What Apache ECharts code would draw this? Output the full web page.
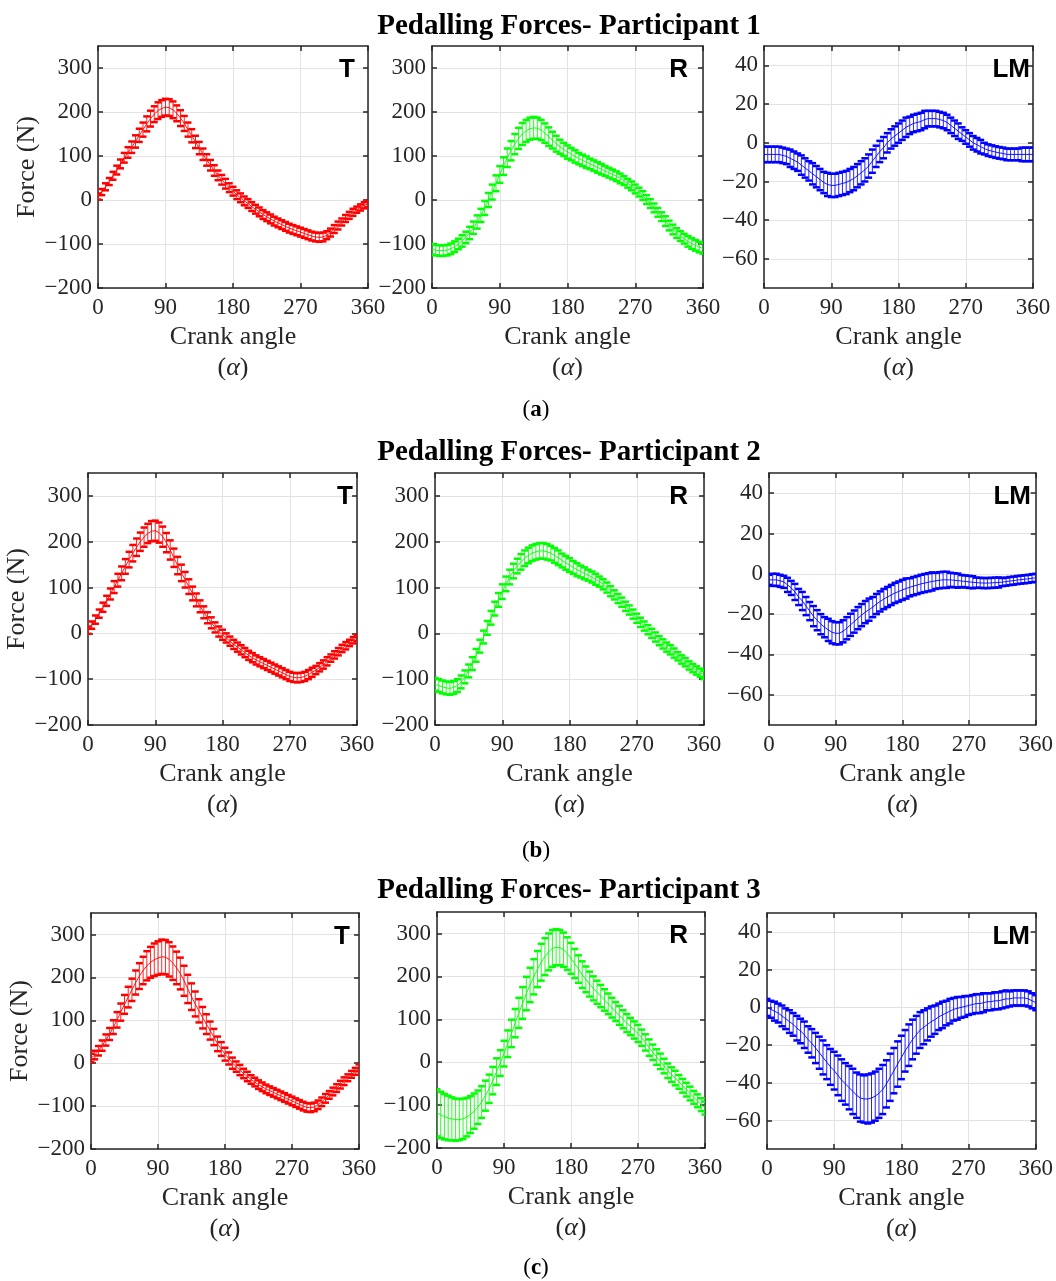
<!DOCTYPE html>
<html><head><meta charset="utf-8">
<script src="https://cdn.jsdelivr.net/npm/echarts@6/dist/echarts.min.js"></script>
<style>html,body{margin:0;padding:0;background:#fff}#c{width:1056px;height:1281px}</style>
</head><body><div id="c"></div><script>
// ---------- DATA ----------
const angles = [0,5,10,15,20,25,30,35,40,45,50,55,60,65,70,75,80,85,90,95,100,105,110,115,120,125,130,135,140,145,150,155,160,165,170,175,180,185,190,195,200,205,210,215,220,225,230,235,240,245,250,255,260,265,270,275,280,285,290,295,300,305,310,315,320,325,330,335,340,345,350,355,360];
const xTicks = [0,90,180,270,360];
const forceTicks = [-200,-100,0,100,200,300];
const lmTicks = [-60,-40,-20,0,20,40];
const rowTitles = ['Pedalling Forces- Participant 1','Pedalling Forces- Participant 2','Pedalling Forces- Participant 3'];
const rowTags = ['a','b','c'];
const panelNames = ['T','R','LM'];

const p1T_mean = [8,18,30,42,55, 68,82,96,108,120, 133,147,160,173,185, 195,203,208,211,210, 205,197,186,174,160, 146,132,118,104,91, 79,67,56,46,37, 28,20,12,5,-2, -8,-15,-21,-27,-33, -38,-43,-48,-52,-56, -60,-64,-67,-70,-73, -76,-79,-82,-84,-85, -84,-80,-74,-66,-58, -50,-42,-35,-28,-22, -17,-12,-9];
const p1T_sd = [7,7,8,8,9, 10,10,11,12,13, 14,15,16,17,18, 18,19,19,19,19, 19,18,18,17,16, 15,14,14,13,13, 12,12,11,11,11, 10,10,10,10,10, 10,10,10,10,10, 10,10,10,10,10, 10,10,10,10,10, 10,10,10,10,10, 10,9,9,9,9, 8,8,8,8,7, 7,7,7];
const p1R_mean = [-112,-114,-115,-115,-114, -111,-106,-100,-93,-85, -75,-63,-50,-35,-18, 0,18,38,58,77, 96,112,127,140,150, 157,162,164,163,159, 152,144,136,128,121, 115,109,104,99,94, 90,86,82,78,74, 70,66,62,58,54, 49,44,38,32,25, 18,10,1,-8,-18, -28,-38,-48,-58,-67, -75,-82,-88,-94,-99, -103,-107,-110];
const p1R_sd = [12,12,12,12,12, 12,12,12,13,13, 14,14,15,15,16, 16,17,18,19,20, 21,22,23,24,25, 25,25,25,24,23, 22,21,19,18,16, 15,15,14,14,13, 13,13,12,12,12, 12,11,11,11,11, 11,10,10,10,10, 10,10,10,10,10, 10,10,11,11,11, 11,11,11,12,12, 12,12,12];
const p1LM_mean = [-6,-6,-6,-6,-6, -6.5,-7,-8,-9,-10, -11.5,-13,-14.5,-16,-17.5, -19,-20.5,-21.5,-22,-22, -21.5,-21,-20.5,-19.5,-18.5, -17,-15.5,-14,-12,-9.5, -7,-4.5,-2.5,0,2, 3.5,5,6.5,8,9, 10,10.5,11,12,12.5, 12.5,12.5,12,11.5,10.5, 9,7.5,6,4.5,3, 1.5,0,-1,-2,-3, -3.8,-4.3,-4.8,-5.2,-5.5, -6,-6,-6,-6,-6, -6,-6,-6];
const p1LM_sd = [4,4,4,4,4, 4,4,4.5,4.5,4.5, 5,5,5,5.5,5.5, 5.5,5.5,6,6,6, 6,6,6,6,6, 6,6,6,6,6, 5.5,5.5,5.5,5,5, 5,5,5,5,4.5, 4.5,4.5,4.5,4.5,4, 4,4,4,4,4, 4,4,4,3.5,3.5, 3.5,3.5,3.5,3.5,3, 3,3,3,3,3, 3,3,3,3,3.5, 3.5,3.5,3.5];

const p2T_mean = [7,18,30,43,57, 71,86,101,116,131, 146,161,175,188,200, 210,218,223,224,220, 211,198,182,165,148, 132,117,102,87,73, 59,46,34,23,13, 4,-3,-10,-17,-24, -30,-36,-42,-48,-53, -58,-62,-66,-70,-74, -78,-82,-86,-90,-94, -96,-97,-96,-94,-90, -85,-80,-74,-68,-61, -54,-47,-40,-33,-27, -21,-15,-10];
const p2T_sd = [8,8,9,9,10, 11,12,13,14,15, 16,17,18,19,20, 21,21,22,22,22, 22,21,21,20,19, 18,17,16,15,14, 13,13,12,12,11, 11,11,10,10,10, 10,10,10,10,10, 10,10,10,10,10, 10,10,10,10,10, 10,10,10,10,10, 10,9,9,9,9, 8,8,8,8,8, 7,7,7];
const p2R_mean = [-111,-114,-117,-119,-120, -118,-114,-106,-95,-82, -66,-48,-28,-8,12, 34,54,73,91,108, 123,136,147,156,164, 170,175,178,180,180, 178,175,170,165,159, 154,149,144,139,135, 131,127,123,118,113, 107,100,92,84,76, 68,59,51,42,33, 24,16,8,0,-8, -16,-23,-30,-36,-43, -50,-57,-63,-70,-76, -81,-86,-91];
const p2R_sd = [14,14,14,14,14, 14,14,14,14,14, 14,14,14,14,15, 15,15,15,16,16, 16,16,16,17,17, 17,17,17,17,17, 17,16,16,16,15, 15,15,14,14,13, 13,12,12,12,11, 11,11,11,10,10, 10,10,10,10,10, 10,10,10,10,10, 10,10,10,10,10, 9,9,9,9,9, 9,9,9];
const p2LM_mean = [-3,-3,-3,-3.5,-4, -5.5,-7,-9,-11.5,-13.5, -16,-18.5,-21,-23,-25, -26.5,-27.8,-29,-29.5,-29.5, -28.5,-27,-25.3,-23.7,-22, -20.5,-19,-17.8,-16.5,-15, -13.7,-12.5,-11.5,-10.5,-9.5, -8.8,-8,-7.3,-6.7,-6.1, -5.6,-5,-4.6,-4.2,-3.8, -3.5,-3.2,-3,-3,-3, -3.2,-3.4,-3.6,-3.8,-4, -4.2,-4.4,-4.5,-4.6,-4.6, -4.5,-4.4,-4.3,-4.1,-3.9, -3.6,-3.4,-3.1,-2.9,-2.7, -2.5,-2.2,-2];
const p2LM_sd = [2.5,3,3,3,3, 3.5,3.5,4,4,4.5, 4.5,4.5,5,5,5, 5,5.5,5.5,5.5,5.5, 5.5,5.5,5.5,5.5,5.5, 5.5,5.5,5.5,5,5, 5,5,5,5,5, 5,5,5,4.5,4.5, 4.5,4.5,4.5,4.5,4.5, 4,4,4,4,3.5, 3.5,3.5,3,3,3, 3,2.5,2.5,2.5,2.5, 2.5,2.5,2.5,2,2, 2,2,2,2,2, 2,2,2];

const p3T_mean = [12,19,29,41,54, 68,84,101,119,137, 154,171,188,203,216, 227,235,241,245,248, 247,242,233,222,209, 192,173,155,138,122, 106,91,76,61,45, 33,21,11,0,-8, -16,-24,-31,-38,-44, -50,-55,-60,-64,-68, -72,-76,-80,-84,-88, -92,-96,-100,-103,-104, -102,-97,-90,-82,-74, -66,-58,-50,-42,-34, -26,-19,-11];
const p3T_sd = [10,10,11,12,13, 14,16,18,20,22, 24,26,28,30,32, 34,36,38,39,40, 40,40,39,38,37, 35,33,31,29,27, 25,23,21,19,17, 16,15,14,13,12, 12,11,11,10,10, 10,10,10,10,10, 10,10,10,10,10, 10,10,10,10,10, 10,10,10,10,9, 9,9,9,9,8, 8,8,8];
const p3R_mean = [-118,-123,-127,-130,-132, -134,-134,-132,-128,-122, -114,-105,-93,-78,-62, -43,-22,-2,20,43, 67,91,115,138,160, 180,199,217,233,246, 257,265,268,267,262, 253,242,230,217,204, 193,182,172,163,154, 145,136,127,118,109, 100,91,83,75,67, 57,46,34,23,12, 2,-9,-20,-29,-37, -46,-55,-64,-73,-82, -90,-99,-107];
const p3R_sd = [55,54,53,52,50, 49,48,47,45,43, 41,39,37,35,33, 32,31,30,30,31, 32,33,35,37,39, 40,41,42,43,43, 43,43,42,41,40, 38,36,34,32,31, 30,29,28,27,26, 25,24,23,22,22, 21,21,20,20,20, 19,19,19,18,18, 18,17,17,17,17, 16,16,16,16,15, 15,15,15];
const p3LM_mean = [0,-1,-2,-3,-4.5, -6,-7.5,-9,-11,-12.5, -14.5,-17,-19,-21.5,-24, -26.5,-29,-31.5,-33.5,-36, -38.5,-40.5,-42.5,-44.5,-46.5, -48,-48.5,-48.5,-48,-47, -45.5,-43.5,-40.5,-37,-33.5, -30,-26.5,-23,-20,-17, -14.5,-12,-10.5,-9,-7.5, -6.5,-5,-4,-3,-2, -1,-0.5,0,0.5,1, 1.5,2,2,2.5,3, 3,3.5,3.5,4,4.5, 4.5,5,5,5,5, 4.5,3.5,2.5];
const p3LM_sd = [4.5,4.5,5,5,5.5, 5.5,6,6,6.5,6.5, 7,7,7.5,8,8.5, 9,9,9.5,10,10.5, 11,11,11.5,12,12, 12.5,12.5,13,13,13, 13,13,12.5,12.5,12, 12,11.5,11,11,10.5, 10,9.5,9,8.5,8, 7.5,7,7,6.5,6.5, 6,6,5.5,5.5,5, 5,5,5,5,4.5, 4.5,4.5,4.5,4.5,4.5, 4,4,4,4,4, 4,4,4];

// ---------- LAYOUT / STYLE ----------
const panels = [
  {mean:p1T_mean, sd:p1T_sd, type:'F', color:'#ff0000', name:0, g:{l:98,t:46,w:270,h:242}, inset:13},
  {mean:p1R_mean, sd:p1R_sd, type:'F', color:'#00ff00', name:1, g:{l:432,t:46,w:271,h:242}, inset:15},
  {mean:p1LM_mean, sd:p1LM_sd, type:'L', color:'#0000ff', name:2, g:{l:764,t:46,w:269,h:242}, inset:3},
  {mean:p2T_mean, sd:p2T_sd, type:'F', color:'#ff0000', name:0, g:{l:88,t:473,w:269,h:252}, inset:4},
  {mean:p2R_mean, sd:p2R_sd, type:'F', color:'#00ff00', name:1, g:{l:435,t:473,w:269,h:252}, inset:16},
  {mean:p2LM_mean, sd:p2LM_sd, type:'L', color:'#0000ff', name:2, g:{l:769,t:473,w:268,h:252}, inset:6},
  {mean:p3T_mean, sd:p3T_sd, type:'F', color:'#ff0000', name:0, g:{l:91,t:913,w:268,h:236}, inset:9},
  {mean:p3R_mean, sd:p3R_sd, type:'F', color:'#00ff00', name:1, g:{l:437,t:912,w:268,h:236}, inset:17},
  {mean:p3LM_mean, sd:p3LM_sd, type:'L', color:'#0000ff', name:2, g:{l:767,t:913,w:269,h:236}, inset:6}
];
const rowTitleY = [27, 453, 891];
const rowTagY = [410, 851, 1268];
const yNameGap = [55, 50, 51];

const SERIF = 'Liberation Serif, Times New Roman, serif';
const AX = '#262626';
const minus = v => String(v).replace('-', '\u2212');

const grids = [], xAxes = [], yAxes = [], series = [], graphics = [];
panels.forEach((p, i) => {
  grids.push({left:p.g.l, top:p.g.t, width:p.g.w, height:p.g.h, containLabel:false});
  const yr = p.type === 'F' ? {min:-200, max:350, ticks:forceTicks} : {min:-75, max:50, ticks:lmTicks};
  const row = Math.floor(i / 3), col = i % 3;
  xAxes.push({
    gridIndex:i, type:'value', min:0, max:360, interval:90, position:'bottom',
    axisLine:{show:true, onZero:false, lineStyle:{color:AX, width:1.5}},
    axisTick:{show:true, inside:true, length:5, lineStyle:{color:AX, width:1.5}},
    axisLabel:{fontFamily:SERIF, fontSize:23, color:AX, margin:8},
    splitLine:{show:true, lineStyle:{color:'#e3e3e3', width:1}},
    name:'Crank angle\n({al|\u03b1})', nameLocation:'middle', nameGap:34,
    nameTextStyle:{fontFamily:SERIF, fontSize:26, color:AX, lineHeight:31,
      rich:{al:{fontFamily:SERIF, fontSize:26, fontStyle:'italic', color:AX, lineHeight:31}}}
  });
  yAxes.push({
    gridIndex:i, type:'value', min:yr.min, max:yr.max, position:'left',
    axisLine:{show:true, onZero:false, lineStyle:{color:AX, width:1.5}},
    axisTick:{show:true, inside:true, length:5, customValues:yr.ticks, lineStyle:{color:AX, width:1.5}},
    axisLabel:{fontFamily:SERIF, fontSize:23, color:AX, margin:6, customValues:yr.ticks, formatter:minus},
    splitLine:{show:true, lineStyle:{color:'#e3e3e3', width:1}},
    name: col === 0 ? 'Force (N)' : '', nameLocation:'middle', nameGap:yNameGap[row],
    nameTextStyle:{fontFamily:SERIF, fontSize:26, color:AX}
  });
});
// mirrored box axes (top / right)
panels.forEach((p, i) => {
  const yr = p.type === 'F' ? {min:-200, max:350, ticks:forceTicks} : {min:-75, max:50, ticks:lmTicks};
  xAxes.push({
    gridIndex:i, type:'value', min:0, max:360, interval:90, position:'top',
    axisLine:{show:true, onZero:false, lineStyle:{color:AX, width:1.5}},
    axisTick:{show:true, inside:true, length:5, lineStyle:{color:AX, width:1.5}},
    axisLabel:{show:false}, splitLine:{show:false}
  });
  yAxes.push({
    gridIndex:i, type:'value', min:yr.min, max:yr.max, position:'right',
    axisLine:{show:true, onZero:false, lineStyle:{color:AX, width:1.5}},
    axisTick:{show:true, inside:true, length:5, customValues:yr.ticks, lineStyle:{color:AX, width:1.5}},
    axisLabel:{show:false, customValues:yr.ticks}, splitLine:{show:false}
  });
});

panels.forEach((p, i) => {
  const bars = angles.map((a, k) => [a, p.mean[k] - p.sd[k], p.mean[k] + p.sd[k]]);
  series.push({
    type:'custom', xAxisIndex:i, yAxisIndex:i, clip:true, silent:true, animation:false,
    data:bars, encode:{x:0, y:[1,2]},
    renderItem:(params, api) => {
      const x = api.value(0);
      const lo = api.coord([x, api.value(1)]);
      const hi = api.coord([x, api.value(2)]);
      const cw = 3.5;
      return {type:'group', children:[
        {type:'line', shape:{x1:lo[0], y1:lo[1], x2:hi[0], y2:hi[1]}, style:{stroke:p.color, lineWidth:1, opacity:0.85}},
        {type:'line', shape:{x1:lo[0]-cw, y1:lo[1], x2:lo[0]+cw, y2:lo[1]}, style:{stroke:p.color, lineWidth:2.5}},
        {type:'line', shape:{x1:hi[0]-cw, y1:hi[1], x2:hi[0]+cw, y2:hi[1]}, style:{stroke:p.color, lineWidth:2.5}}
      ]};
    }
  });
  series.push({
    type:'line', xAxisIndex:i, yAxisIndex:i, showSymbol:false, animation:false, silent:true,
    data:angles.map((a, k) => [a, p.mean[k]]),
    lineStyle:{color:p.color, width:1, opacity:0.9}, z:3
  });
  graphics.push({
    type:'text', x:p.g.l + p.g.w - p.inset, y:p.g.t + 24, z:10,
    style:{text:panelNames[p.name], font:'bold 26px "Liberation Sans", Arial, sans-serif', fill:'#000', align:'right', verticalAlign:'middle'}
  });
});

rowTitles.forEach((t, r) => {
  graphics.push({type:'text', x:569, y:rowTitleY[r], z:10,
    style:{text:t, font:'bold 29px "Liberation Serif", "Times New Roman", serif', fill:'#000', align:'center', verticalAlign:'middle'}});
  graphics.push({type:'text', x:536, y:rowTagY[r], z:10,
    style:{text:'({b|' + rowTags[r] + '})', font:'23px "Liberation Serif", serif', fill:'#000', align:'center', verticalAlign:'middle',
      rich:{b:{font:'bold 23px "Liberation Serif", serif', fill:'#000'}}}});
});

const chart = echarts.init(document.getElementById('c'), null, {renderer:'canvas'});
chart.setOption({
  animation:false, backgroundColor:'#fff',
  grid:grids, xAxis:xAxes, yAxis:yAxes, series:series, graphic:graphics
});
</script></body></html>
